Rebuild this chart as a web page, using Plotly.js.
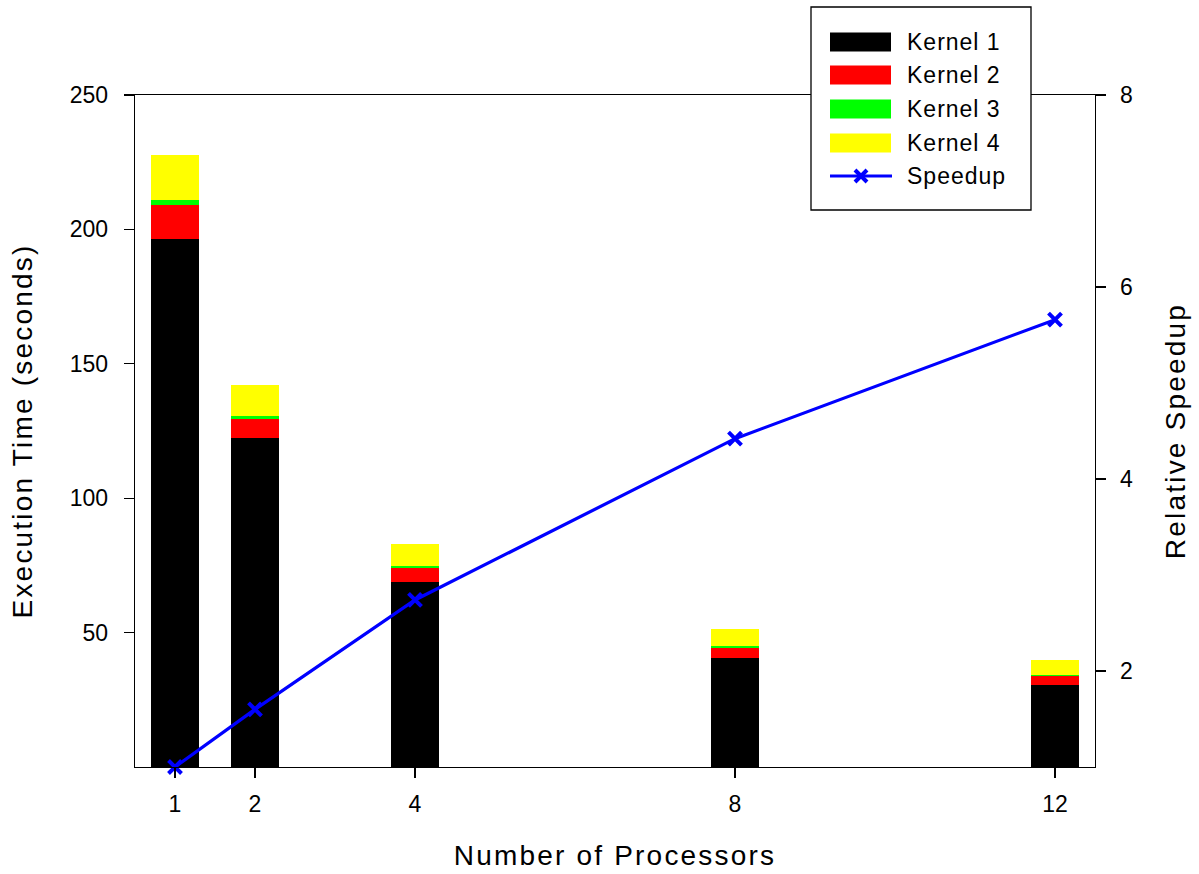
<!DOCTYPE html>
<html>
<head>
<meta charset="utf-8">
<script src="https://cdn.plot.ly/plotly-3.0.1.min.js"></script>
<style>
  html, body { margin: 0; padding: 0; background: #fff; }
  #chart { width: 1199px; height: 874px; }
  .xtitle, .ytitle, .y2title { letter-spacing: 2.2px; }
  .annotation-text { letter-spacing: 1px; }
</style>
</head>
<body>
<div id="chart"></div>
<script>
// Execution time per kernel (seconds) and relative speedup vs. processor count
const processors = [1, 2, 4, 8, 12];
const kernel1 = [196.3, 122.3, 68.8, 40.5, 30.5];
const kernel2 = [12.6, 7.1, 5.2, 3.7, 3.3];
const kernel3 = [2.2, 1.1, 0.7, 0.8, 0.4];
const kernel4 = [16.4, 11.5, 8.2, 6.3, 5.6];
const speedup = [1.0, 1.60, 2.74, 4.42, 5.66];

const kernelNames = ['Kernel 1', 'Kernel 2', 'Kernel 3', 'Kernel 4'];
const kernelColors = ['#000000', '#ff0000', '#00ff00', '#ffff00'];
const kernelSeries = [kernel1, kernel2, kernel3, kernel4];
const speedupName = 'Speedup';
const speedupColor = '#0000ff';

const FONT = 'Liberation Sans, Arial, sans-serif';

// plot-area geometry (pixels) used to place the hand-drawn legend
const W = 1199, H = 874;
const M = { l: 135, r: 104, t: 95, b: 107 };
const plotW = W - M.l - M.r, plotH = H - M.t - M.b;
const px = x => (x - M.l) / plotW;
const py = y => (H - M.b - y) / plotH;

const traces = kernelSeries.map((vals, i) => ({
  type: 'bar',
  name: kernelNames[i],
  x: processors,
  y: vals,
  width: 0.6,
  marker: { color: kernelColors[i], line: { width: 0 } },
  showlegend: false,
  hoverinfo: 'x+y+name'
}));

traces.push({
  type: 'scatter',
  mode: 'lines+markers',
  name: speedupName,
  x: processors,
  y: speedup,
  yaxis: 'y2',
  line: { color: speedupColor, width: 3.2 },
  marker: { symbol: 'x-thin', size: 13, color: speedupColor,
            line: { color: speedupColor, width: 4 } },
  showlegend: false,
  cliponaxis: false
});

// legend: framed box with swatches and labels
const legBox = { x0: 811, x1: 1031, y0: 7, y1: 210 };
const rowY = [42, 75, 109, 143, 176];
const shapes = [{
  type: 'rect', xref: 'paper', yref: 'paper', layer: 'above',
  x0: px(legBox.x0), x1: px(legBox.x1), y0: py(legBox.y1), y1: py(legBox.y0),
  line: { color: '#000', width: 1.3 }, fillcolor: '#ffffff'
}];
const annotations = [];
kernelNames.forEach((n, i) => {
  shapes.push({
    type: 'rect', xref: 'paper', yref: 'paper', layer: 'above',
    x0: px(830), x1: px(891), y0: py(rowY[i] + 9.5), y1: py(rowY[i] - 9.5),
    line: { width: 0 }, fillcolor: kernelColors[i]
  });
});
const labels = kernelNames.concat([speedupName]);
labels.forEach((n, i) => {
  annotations.push({
    xref: 'paper', yref: 'paper', x: px(905), y: py(rowY[i]),
    xanchor: 'left', yanchor: 'middle', showarrow: false,
    text: n, font: { family: FONT, size: 23, color: '#000' }
  });
});
// speedup legend sample: line with an x marker
const ly = rowY[4], lc = 861, s = 6;
shapes.push({
  type: 'line', xref: 'paper', yref: 'paper', layer: 'above',
  x0: px(830), x1: px(892), y0: py(ly), y1: py(ly),
  line: { color: speedupColor, width: 3.2 }
});
shapes.push({
  type: 'path', xref: 'paper', yref: 'paper', layer: 'above',
  path: `M ${px(lc - s)} ${py(ly - s)} L ${px(lc + s)} ${py(ly + s)} M ${px(lc - s)} ${py(ly + s)} L ${px(lc + s)} ${py(ly - s)}`,
  line: { color: speedupColor, width: 4 }
});

const axisCommon = {
  showgrid: false, zeroline: false, showline: true,
  linecolor: '#000', linewidth: 1.3,
  ticks: 'outside', ticklen: 10, tickwidth: 1.3, tickcolor: '#000',
  tickfont: { family: FONT, size: 23, color: '#000' }
};

const layout = {
  width: W, height: H,
  margin: M,
  paper_bgcolor: '#fff', plot_bgcolor: '#fff',
  barmode: 'stack',
  bargap: 0,
  showlegend: false,
  font: { family: FONT, color: '#000' },
  xaxis: Object.assign({}, axisCommon, {
    range: [0.5, 12.5], tickmode: 'array', tickvals: processors,
    ticktext: processors.map(String), mirror: true,
    ticklabelstandoff: 6,
    title: { text: 'Number of Processors', standoff: 29,
             font: { family: FONT, size: 28, color: '#000' } }
  }),
  yaxis: Object.assign({}, axisCommon, {
    range: [0, 250], tickmode: 'array', tickvals: [50, 100, 150, 200, 250],
    ticklabelstandoff: 11,
    title: { text: 'Execution Time (seconds)', standoff: 29,
             font: { family: FONT, size: 28, color: '#000' } }
  }),
  yaxis2: Object.assign({}, axisCommon, {
    range: [1, 8], tickmode: 'array', tickvals: [2, 4, 6, 8],
    overlaying: 'y', side: 'right', anchor: 'x',
    ticklabelstandoff: 9,
    title: { text: 'Relative Speedup', standoff: 33,
             font: { family: FONT, size: 28, color: '#000' } }
  }),
  shapes: shapes,
  annotations: annotations
};

Plotly.newPlot('chart', traces, layout, { displayModeBar: false, staticPlot: true });
</script>
</body>
</html>
